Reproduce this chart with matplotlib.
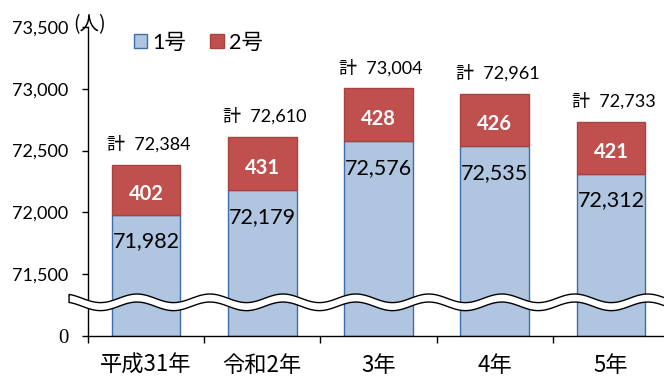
import numpy as np
import matplotlib
matplotlib.use("Agg")
import matplotlib.pyplot as plt
from matplotlib.patches import Polygon
from matplotlib.transforms import blended_transform_factory

plt.rcParams['font.family'] = ['Lato', 'Noto Sans CJK JP']

# データ
years = ["平成31年", "令和2年", "3年", "4年", "5年"]
go1 = [71982, 72179, 72576, 72535, 72312]
go2 = [402, 431, 428, 426, 421]
totals = [72384, 72610, 73004, 72961, 72733]
y_ticks = [0, 71500, 72000, 72500, 73000, 73500]
y_ticklabels = ["0", "71,500", "72,000", "72,500", "73,000", "73,500"]

blue = '#AFC5E0'
blue_edge = '#3F6EA8'
red = '#C0504D'
red_edge = '#A8423F'

# 0〜71,500 を圧縮して表示する縦軸
BREAK = 71500
LOW = 500


def forward(v):
    v = np.asarray(v, dtype=float)
    return np.where(v <= BREAK, v * LOW / BREAK, v - BREAK + LOW)


def inverse(u):
    u = np.asarray(u, dtype=float)
    return np.where(u <= LOW, u * BREAK / LOW, u + BREAK - LOW)


fig = plt.figure(figsize=(6.64, 3.78), dpi=100)
W, H = 664, 378
ax = fig.add_axes([88 / W, 42 / H, 581 / W, 309 / H])
ax.set_yscale('function', functions=(forward, inverse))

x = np.arange(len(years))
bw = 0.59
ax.bar(x, go1, width=bw, color=blue, edgecolor=blue_edge, linewidth=1, label="1号")
ax.bar(x, go2, width=bw, bottom=go1, color=red, edgecolor=red_edge, linewidth=1, label="2号")

ax.set_xlim(-0.5, len(years) - 0.5)
ax.set_ylim(0, 73500)

# 数値ラベル
for xi, v1, v2, t in zip(x, go1, go2, totals):
    ax.annotate(f"{v1:,}", (xi, v1), xytext=(0, -19), textcoords='offset points',
                ha='center', va='center', fontsize=15.5, color='black')
    ax.annotate(f"{v2:,}", (xi, v1 + v2 / 2), xytext=(0, -3), textcoords='offset points',
                ha='center', va='center', fontsize=14.5, fontweight='bold', color='white')
    ax.annotate(f"計  {t:,}", (xi, t), xytext=(2, 15), textcoords='offset points',
                ha='center', va='center', fontsize=13, color='black')

# 軸
for s in ['top', 'right']:
    ax.spines[s].set_visible(False)
for s in ['left', 'bottom']:
    ax.spines[s].set_color('black')
    ax.spines[s].set_linewidth(1)

ax.set_yticks(y_ticks)
ax.set_yticklabels(y_ticklabels)
ax.yaxis.set_minor_locator(matplotlib.ticker.NullLocator())
ax.tick_params(axis='y', direction='out', length=4.3, width=1, pad=10, labelsize=13)
zero_label = ax.yaxis.get_major_ticks()[0].label1
zero_label.set_fontfamily(['Liberation Serif'])
zero_label.set_fontsize(15)

ax.set_xticks(x)
ax.set_xticklabels(years, family=['Noto Sans CJK JP'], fontsize=16)
ax.set_xticks(np.arange(-0.5, len(years)), minor=True)
ax.tick_params(axis='x', which='major', length=0, pad=13)
ax.tick_params(axis='x', which='minor', direction='out', length=5, width=1)

# 省略を示す波線
trans = blended_transform_factory(ax.transData, ax.transAxes)
wx = np.linspace(-0.663, 4.7, 600)
x0 = -0.0785
period = 73 / 116.25
upper = 0.122 + 0.0139 * np.cos(2 * np.pi * (wx - x0) / period)
lower = upper - 0.026
pts = np.column_stack([np.r_[wx, wx[::-1]], np.r_[upper, lower[::-1]]])
ax.add_patch(Polygon(pts, closed=True, facecolor='white', edgecolor='black',
                     linewidth=1, transform=trans, clip_on=False, zorder=5))

# 単位
fig.text(90 / W, 1 - 25 / H, "(人)", ha='center', va='center', fontsize=14,
         family=['Noto Sans CJK JP'])

fig.legend(loc='upper left', bbox_to_anchor=(134 / W, 1 - 33 / H), ncol=2,
           frameon=False, handlelength=0.62, handleheight=0.62,
           handletextpad=0.25, columnspacing=1.1, borderpad=0, borderaxespad=0,
           prop={'family': ['Lato', 'Noto Sans CJK JP'], 'size': 15.5})

fig.savefig('out.png', dpi=100)
